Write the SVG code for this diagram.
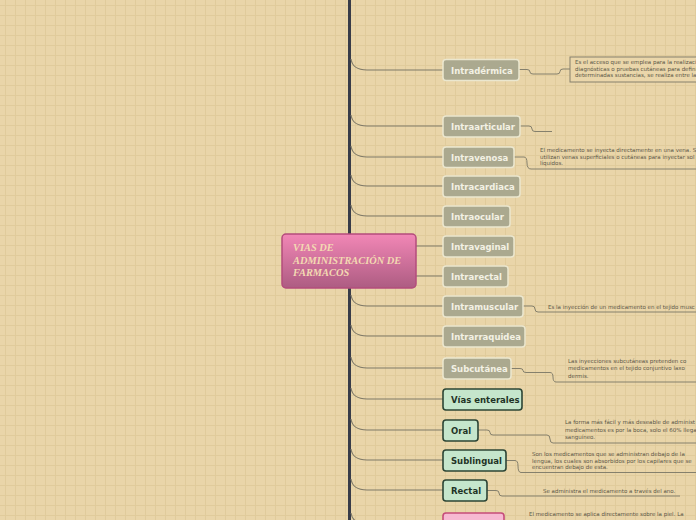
<svg xmlns="http://www.w3.org/2000/svg" width="696" height="520" viewBox="0 0 696 520">
<defs>
<pattern id="grid" width="10" height="10" patternUnits="userSpaceOnUse" x="5" y="5">
<rect width="10" height="10" fill="#e9d5a9"/>
<path d="M0 0.5H10M0.5 0V10" stroke="#e0cb9b" stroke-width="1" fill="none"/>
</pattern>
<linearGradient id="cg" x1="0" y1="0" x2="0" y2="1">
<stop offset="0" stop-color="#f287b6"/>
<stop offset="1" stop-color="#ad5c82"/>
</linearGradient>
<style>
.br{fill:none;stroke:#7f7a68;stroke-width:1.1}
.ds{fill:none;stroke:#85806c;stroke-width:1}
.gn rect{fill:#aba98f;stroke:#ebe7cf;stroke-width:1.5}
.gn text{font-family:"DejaVu Sans",sans-serif;font-weight:bold;font-size:8.5px;fill:#f3f1e4}
.en rect{fill:#c5e6cc;stroke:#2c4535;stroke-width:1.6}
.en text{font-family:"DejaVu Sans",sans-serif;font-weight:bold;font-size:8.5px;fill:#1f3326}
.d{font-family:"DejaVu Sans",sans-serif;font-size:5.5px;fill:#5b5647}
.ct{font-family:"Liberation Serif",serif;font-weight:bold;font-style:italic;font-size:10.4px;fill:#f3d9b2}
</style>
</defs>
<rect width="696" height="520" fill="url(#grid)"/>

<g id="connectors">
<path d="M349.5 0V520" stroke="#383c48" stroke-width="3" fill="none"/>
<path class="br" d="M351 59C352 66 357 70 367 70H443"/>
<path class="br" d="M351 115C352 122 357 126 367 126H443"/>
<path class="br" d="M351 146C352 153 357 157 367 157H443"/>
<path class="br" d="M351 175C352 182 357 186 367 186H443"/>
<path class="br" d="M351 205C352 212 357 216 367 216H443"/>
<path class="br" d="M351 235C352 242 357 246 367 246H443"/>
<path class="br" d="M351 265C352 272 357 276 367 276H443"/>
<path class="br" d="M351 295C352 302 357 306 367 306H443"/>
<path class="br" d="M351 325C352 332 357 336 367 336H443"/>
<path class="br" d="M351 357C352 364 357 368 367 368H443"/>
<path class="br" d="M351 388C352 395 357 399 367 399H443"/>
<path class="br" d="M351 419C352 426 357 430 367 430H443"/>
<path class="br" d="M351 449C352 456 357 460 367 460H443"/>
<path class="br" d="M351 479C352 486 357 490 367 490H443"/>
<path class="br" d="M351 513C352 520 357 524 367 524H443"/>

<path class="ds" d="M519 69.5H527Q530 69.5 530 72Q530 74 533 74H557Q560 74 560 71.5Q560 69 563 69H570"/>
<path class="ds" d="M520 126H529Q532 126 532 129Q532 131.5 535 131.5H552"/>
<path class="ds" d="M514 157H524Q527 157 527 163Q527 169 531 169H696"/>
<path class="ds" d="M523 306H532Q535 306 535 309Q535 312 538 312H696"/>
<path class="ds" d="M511 368.5H520Q523 368.5 523 370.5Q523 372.5 526 372.5H550Q553 372.5 553 377Q553 382 556 382H696"/>
<path class="ds" d="M478 430H487Q490 430 490 432.5Q490 435 493 435H547Q550 435 550 439Q550 443 553 443H696"/>
<path class="ds" d="M506 460.5H515Q518 460.5 518 466Q518 472.5 521 472.5H696"/>
<path class="ds" d="M487 490.5H496Q499 490.5 499 493Q499 496 502 496H680"/>
</g>

<g id="central">
<rect x="282" y="234" width="134" height="54" rx="4" fill="url(#cg)" stroke="#b44c7c" stroke-width="1.5"/>
<text class="ct" x="293" y="251">VIAS DE</text>
<text class="ct" x="293" y="263.5">ADMINISTRACIÓN DE</text>
<text class="ct" x="293" y="276">FARMACOS</text>
</g>

<g id="n-intradermica" class="gn"><rect x="443" y="59.5" width="76" height="21" rx="3"/><text x="451" y="73.5">Intradérmica</text></g>
<g id="n-intraarticular" class="gn"><rect x="443" y="116" width="77" height="21" rx="3"/><text x="451" y="130">Intraarticular</text></g>
<g id="n-intravenosa" class="gn"><rect x="443" y="147" width="71" height="20.5" rx="3"/><text x="451" y="160.5">Intravenosa</text></g>
<g id="n-intracardiaca" class="gn"><rect x="443" y="176" width="77" height="21" rx="3"/><text x="451" y="190">Intracardiaca</text></g>
<g id="n-intraocular" class="gn"><rect x="443" y="206" width="67" height="21" rx="3"/><text x="451" y="220">Intraocular</text></g>
<g id="n-intravaginal" class="gn"><rect x="443" y="236" width="71" height="21" rx="3"/><text x="451" y="250">Intravaginal</text></g>
<g id="n-intrarectal" class="gn"><rect x="443" y="266" width="65" height="21" rx="3"/><text x="451" y="280">Intrarectal</text></g>
<g id="n-intramuscular" class="gn"><rect x="443" y="296" width="80" height="21" rx="3"/><text x="451" y="310">Intramuscular</text></g>
<g id="n-intrarraquidea" class="gn"><rect x="443" y="326" width="82" height="21" rx="3"/><text x="451" y="340">Intrarraquidea</text></g>
<g id="n-subcutanea" class="gn"><rect x="443" y="358" width="68" height="21" rx="3"/><text x="451" y="372">Subcutánea</text></g>
<g id="n-vias-enterales" class="en"><rect x="443" y="389" width="79" height="21" rx="3"/><text x="451" y="403">Vías enterales</text></g>
<g id="n-oral" class="en"><rect x="443" y="420" width="35" height="21" rx="3"/><text x="451" y="434">Oral</text></g>
<g id="n-sublingual" class="en"><rect x="443" y="450" width="63" height="21" rx="3"/><text x="451" y="464">Sublingual</text></g>
<g id="n-rectal" class="en"><rect x="443" y="480" width="44" height="21" rx="3"/><text x="451" y="494">Rectal</text></g>
<g id="n-topica"><rect x="443" y="513" width="61" height="22" rx="3" fill="#f7b9d2" stroke="#c64c7a" stroke-width="1.6"/></g>

<g id="d-intradermica">
<rect x="570" y="57" width="130" height="25" fill="#ead6aa" stroke="#86806c" stroke-width="1"/>
<text class="d" x="575" y="64">Es el acceso que se emplea para la realizaci</text>
<text class="d" x="575" y="70.5">diagnósticas o pruebas cutáneas para defini</text>
<text class="d" x="575" y="77">determinadas sustancias, se realiza entre la</text>
</g>
<g id="d-intravenosa">
<text class="d" x="540" y="152">El medicamento se inyecta directamente en una vena. S</text>
<text class="d" x="540" y="158.5">utilizan venas superficiales o cutáneas para inyectar sol</text>
<text class="d" x="540" y="165">líquidos.</text>
</g>
<g id="d-intramuscular">
<text class="d" x="548" y="309">Es la inyección de un medicamento en el tejido musc</text>
</g>
<g id="d-subcutanea">
<text class="d" x="568" y="362.5">Las inyecciones subcutáneas pretenden co</text>
<text class="d" x="568" y="370">medicamentos en el tejido conjuntivo laxo</text>
<text class="d" x="568" y="377.5">dermis.</text>
</g>
<g id="d-oral">
<text class="d" x="565" y="424">La forma más fácil y más deseable de administ</text>
<text class="d" x="565" y="431.5">medicamentos es por la boca, solo el 60% llega</text>
<text class="d" x="565" y="439">sanguíneo.</text>
</g>
<g id="d-sublingual">
<text class="d" x="532" y="456">Son los medicamentos que se administran debajo de la</text>
<text class="d" x="532" y="462.5">lengua, los cuales son absorbidos por los capilares que se</text>
<text class="d" x="532" y="469">encuentran debajo de esta.</text>
</g>
<g id="d-rectal">
<text class="d" x="543" y="493">Se administra el medicamento a través del ano.</text>
</g>
<g id="d-topica">
<text class="d" x="529" y="516">El medicamento se aplica directamente sobre la piel. La</text>
</g>
</svg>
